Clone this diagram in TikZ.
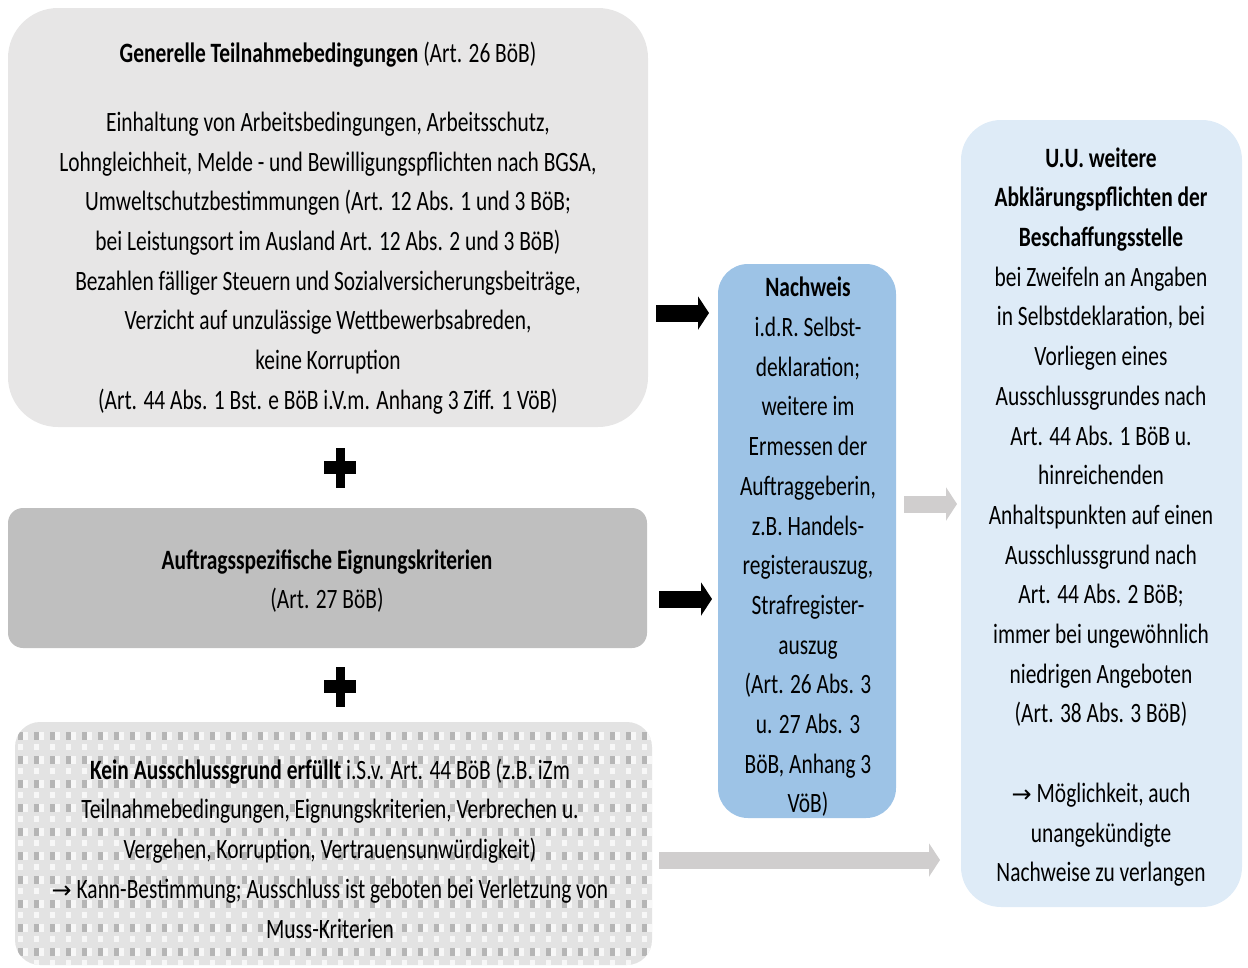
\documentclass[tikz,border=0pt]{standalone}
\usepackage{fontspec}
\setmainfont{Carlito}[FakeStretch=0.765]
\newfontfamily\arrowfont{DejaVu Sans}
\usetikzlibrary{arrows.meta}
\definecolor{boxA}{HTML}{E7E6E6}
\definecolor{boxB}{HTML}{BFBFBF}
\definecolor{nachw}{HTML}{9DC3E6}
\definecolor{rightc}{HTML}{DEEBF7}
\definecolor{garrow}{HTML}{D0CECE}
\definecolor{patbase}{HTML}{E3E3E3}
\definecolor{patdark}{HTML}{B5B5B5}
\definecolor{patlight}{HTML}{F7F7F7}
\newcommand{\rarr}{{\arrowfont\fontsize{24}{39.7}\selectfont →}}
\begin{document}
\begin{tikzpicture}[x=1pt,y=-1pt,
  box/.style={inner sep=0pt, outer sep=0pt, draw=none},
  txt/.style={align=center, font=\fontsize{28}{39.7}\selectfont, inner sep=0pt},
  blk/.style={line width=17pt, -{Triangle[length=11pt,width=33pt]}},
  plusbar/.style={fill=black}]
\useasboundingbox (0,0) rectangle (1248,967);

% boxes
\node[box, fill=boxA, rounded corners=50pt, minimum width=640pt, minimum height=419pt] (gen) at (328,217.5) {};
\node[box, fill=boxB, rounded corners=15pt, minimum width=639pt, minimum height=140pt] (auf) at (327.5,578) {};
\node[box, fill=patbase, rounded corners=25pt, minimum width=637pt, minimum height=243pt] (aus) at (333.5,843.5) {};
\begin{scope}
  \clip[rounded corners=25pt] (aus.north west) rectangle (aus.south east);
  \foreach \j in {0,...,10}{
    \foreach \i in {0,...,40}{
      \fill[patdark] (18+16*\i,732+24*\j) rectangle +(5,8);
      \fill[patlight] (23+16*\i,732+24*\j) rectangle +(5,8);
      \fill[patlight] (18+16*\i,744+24*\j) rectangle +(5,6);
    }
  }
\end{scope}
\node[box, fill=nachw, rounded corners=30pt, minimum width=178pt, minimum height=554pt] (nach) at (807,541) {};
\node[box, fill=rightc, rounded corners=40pt, minimum width=281pt, minimum height=787pt] (abk) at (1101.5,513.5) {};

% plus signs
\fill[plusbar] (324,461) rectangle (356,474);
\fill[plusbar] (335.5,448) rectangle (344.5,488);
\fill[plusbar] (324,680) rectangle (356,693);
\fill[plusbar] (335.5,667) rectangle (344.5,707);

% arrows
\coordinate (a1s) at (656,313);
\coordinate (a1e) at (709,313);
\coordinate (a2s) at (659,599);
\coordinate (a2e) at (712,599);
\coordinate (a3s) at (904,504);
\coordinate (a3e) at (957,504);
\coordinate (a4s) at (659,860);
\coordinate (a4e) at (940,860);
\draw[blk, black] (a1s) -- (a1e);
\draw[blk, black] (a2s) -- (a2e);
\draw[blk, garrow] (a3s) -- (a3e);
\draw[blk, garrow] (a4s) -- (a4e);

% texts
\node[txt] (genT) at (328,55) {\textbf{Generelle Teilnahmebedingungen} (Art. 26 BöB)};
\node[txt] (genB) at (328,263) {Einhaltung von Arbeitsbedingungen, Arbeitsschutz,\\
Lohngleichheit, Melde - und Bewilligungspflichten nach BGSA,\\
Umweltschutzbestimmungen (Art. 12 Abs. 1 und 3 BöB;\\
bei Leistungsort im Ausland Art. 12 Abs. 2 und 3 BöB)\\
Bezahlen fälliger Steuern und Sozialversicherungsbeiträge,\\
Verzicht auf unzulässige Wettbewerbsabreden,\\
keine Korruption\\
(Art. 44 Abs. 1 Bst. e BöB i.V.m. Anhang 3 Ziff. 1 VöB)};
\node[txt] (aufT) at (327,581) {\textbf{Auftragsspezifische Eignungskriterien}\\(Art. 27 BöB)};
\node[txt] (ausT) at (330,848.5) {\textbf{Kein Ausschlussgrund erfüllt} i.S.v. Art. 44 BöB (z.B. iZm\\
Teilnahmebedingungen, Eignungskriterien, Verbrechen u.\\
Vergehen, Korruption, Vertrauensunwürdigkeit)\\
\rarr{} Kann-Bestimmung; Ausschluss ist geboten bei Verletzung von\\
Muss-Kriterien};
\node[txt] (nachT) at (808,547) {\textbf{Nachweis}\\
i.d.R. Selbst-\\
deklaration;\\
weitere im\\
Ermessen der\\
Auftraggeberin,\\
z.B. Handels-\\
registerauszug,\\
Strafregister-\\
auszug\\
(Art. 26 Abs. 3\\
u. 27 Abs. 3\\
BöB, Anhang 3\\
VöB)};
\node[txt] (abkT) at (1101,517) {\textbf{U.U. weitere}\\
\textbf{Abklärungspflichten der}\\
\textbf{Beschaffungsstelle}\\
bei Zweifeln an Angaben\\
in Selbstdeklaration, bei\\
Vorliegen eines\\
Ausschlussgrundes nach\\
Art. 44 Abs. 1 BöB u.\\
hinreichenden\\
Anhaltspunkten auf einen\\
Ausschlussgrund nach\\
Art. 44 Abs. 2 BöB;\\
immer bei ungewöhnlich\\
niedrigen Angeboten\\
(Art. 38 Abs. 3 BöB)\\
\\
\rarr{} Möglichkeit, auch\\
unangekündigte\\
Nachweise zu verlangen};
\end{tikzpicture}
\end{document}
